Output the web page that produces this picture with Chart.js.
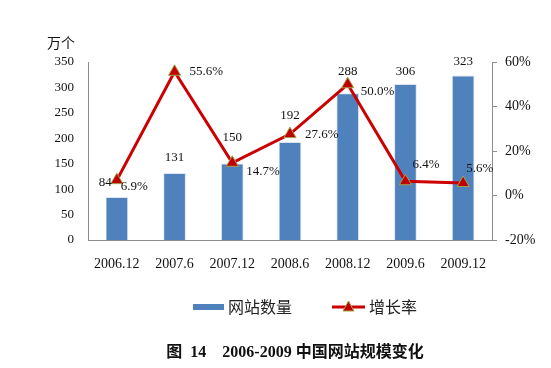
<!DOCTYPE html>
<html>
<head>
<meta charset="utf-8">
<script src="https://cdn.jsdelivr.net/npm/chart.js@4/dist/chart.umd.min.js"></script>
<style>
  body { margin: 0; background: #fff; }
  #wrap { position: relative; width: 551px; height: 368px; }
</style>
</head>
<body>
<div id="wrap"><canvas id="myChart" width="551" height="368"></canvas></div>
<script>
// Datos del gráfico
const periodos = ['2006.12', '2007.6', '2007.12', '2008.6', '2008.12', '2009.6', '2009.12'];
const sitios = [84, 131, 150, 192, 288, 306, 323];
const crecimiento = [6.9, 55.6, 14.7, 27.6, 50.0, 6.4, 5.6];
const ticksIzq = [0, 50, 100, 150, 200, 250, 300, 350];
const ticksDer = [-20, 0, 20, 40, 60];
const leyenda = ['网站数量', '增长率'];
const titulo = '图  14    2006-2009 中国网站规模变化';
const unidadTxt = '万个';

const serif = "'Liberation Serif', 'DejaVu Serif', serif";
const cjk = "'Noto Sans CJK SC', 'Noto Sans', sans-serif";
const azul = '#4f81bd';
const rojo = '#cc0000';

// Desplazamientos de las etiquetas (estilo, no datos)
const offBarras = [15, 16, 26, 27, 22, 13, 14];
const offLinea = [[4, 6], [15, 0], [14, 9], [15, 0], [13, 7], [7, -17], [3, -14]];

// Plugin para dibujar las etiquetas de datos
const etiquetas = {
    id: 'etiquetas',
    afterDatasetsDraw(chart) {
        const ctx = chart.ctx;
        ctx.save();
        ctx.font = '13px ' + serif;
        ctx.fillStyle = '#111';
        ctx.textBaseline = 'middle';
        chart.getDatasetMeta(0).data.forEach(function (bar, i) {
            ctx.textAlign = 'center';
            let x = bar.x;
            if (i === 0) { ctx.textAlign = 'right'; x = bar.x - 5; }
            ctx.fillText(String(sitios[i]), x, bar.y - offBarras[i]);
        });
        chart.getDatasetMeta(1).data.forEach(function (pt, i) {
            ctx.textAlign = 'left';
            ctx.fillText(crecimiento[i].toFixed(1) + '%', pt.x + offLinea[i][0], pt.y + offLinea[i][1]);
        });
        ctx.restore();
    }
};

// Plugin para la unidad, la leyenda y el título inferior
const adornos = {
    id: 'adornos',
    afterDraw(chart) {
        const ctx = chart.ctx;
        ctx.save();
        ctx.textBaseline = 'middle';
        ctx.textAlign = 'left';
        // Unidad del eje izquierdo
        ctx.font = '14px ' + cjk;
        ctx.fillStyle = '#111';
        ctx.fillText(unidadTxt, 47, 43);
        // Leyenda
        const yl = 307;
        ctx.fillStyle = azul;
        ctx.fillRect(193, yl - 3, 31, 6);
        ctx.font = '16px ' + cjk;
        ctx.fillStyle = '#222';
        ctx.fillText(leyenda[0], 228, yl);
        ctx.strokeStyle = rojo;
        ctx.lineWidth = 3;
        ctx.beginPath();
        ctx.moveTo(332, yl);
        ctx.lineTo(365, yl);
        ctx.stroke();
        ctx.fillStyle = '#c00000';
        ctx.strokeStyle = '#a3a34a';
        ctx.lineWidth = 1;
        ctx.beginPath();
        ctx.moveTo(348.5, yl - 6);
        ctx.lineTo(354, yl + 4);
        ctx.lineTo(343, yl + 4);
        ctx.closePath();
        ctx.fill();
        ctx.stroke();
        ctx.fillStyle = '#222';
        ctx.fillText(leyenda[1], 369, yl);
        // Título
        ctx.font = "bold 16px 'Liberation Serif', 'Noto Sans CJK SC', serif";
        ctx.fillStyle = '#111';
        ctx.textAlign = 'center';
        ctx.fillText(titulo, 295, 353);
        ctx.restore();
    }
};

const ctx = document.getElementById('myChart').getContext('2d');
const chart = new Chart(ctx, {
    type: 'bar',
    data: {
        labels: periodos,
        datasets: [{
            type: 'bar',
            label: leyenda[0],
            data: sitios,
            backgroundColor: azul,
            borderColor: '#dbe4f0',
            borderWidth: 1,
            barThickness: 22,
            yAxisID: 'y',
            order: 2
        }, {
            type: 'line',
            label: leyenda[1],
            data: crecimiento,
            borderColor: rojo,
            borderWidth: 3,
            pointStyle: 'triangle',
            pointRadius: 7,
            pointBackgroundColor: '#c00000',
            pointBorderColor: '#a3a34a',
            pointBorderWidth: 1,
            yAxisID: 'y1',
            order: 1
        }]
    },
    options: {
        responsive: false,
        animation: false,
        layout: { padding: { top: 62, left: 0, right: 0, bottom: 78 } },
        scales: {
            x: {
                grid: { display: false, drawTicks: false },
                border: { color: '#8c8c8c', width: 1 },
                ticks: { color: '#111', font: { family: serif, size: 14 }, padding: 16, maxRotation: 0 },
                afterFit: function (scale) { scale.height = 50; }
            },
            y: {
                position: 'left',
                min: 0,
                max: 350,
                afterBuildTicks: function (scale) { scale.ticks = ticksIzq.map(function (v) { return { value: v }; }); },
                grid: { display: false, drawTicks: false },
                border: { color: '#8c8c8c', width: 1 },
                ticks: { color: '#111', font: { family: serif, size: 13 }, padding: 14 },
                afterFit: function (scale) { scale.width = 88; }
            },
            y1: {
                position: 'right',
                min: -20,
                max: 60,
                afterBuildTicks: function (scale) { scale.ticks = ticksDer.map(function (v) { return { value: v }; }); },
                grid: { drawOnChartArea: false, drawTicks: true, tickLength: 5, color: '#8c8c8c' },
                border: { color: '#8c8c8c', width: 1 },
                ticks: {
                    color: '#111', font: { family: serif, size: 14 }, padding: 8,
                    callback: function (v) { return v + '%'; }
                },
                afterFit: function (scale) { scale.width = 59; }
            }
        },
        plugins: {
            legend: { display: false },
            title: { display: false },
            tooltip: { enabled: false }
        }
    },
    plugins: [etiquetas, adornos]
});
</script>
</body>
</html>
